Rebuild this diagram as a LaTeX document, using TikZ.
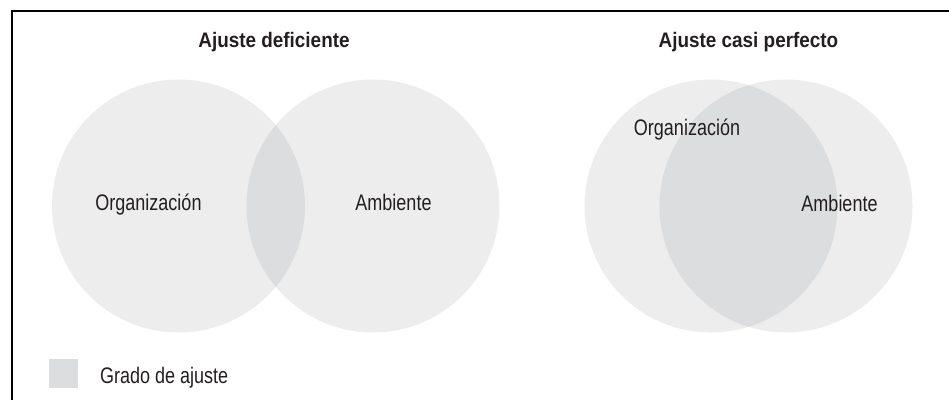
\documentclass[tikz,border=0pt]{standalone}
\usepackage{fontspec}
\setmainfont{Liberation Sans}
\newfontfamily\bodyfont[FakeStretch=0.80]{Liberation Sans}
\newfontfamily\headfont[FakeStretch=0.90]{Liberation Sans}
\definecolor{circfill}{HTML}{EDEDED}
\definecolor{lensfill}{HTML}{DCDDDF}
\definecolor{ink}{HTML}{231F20}
\tikzset{
  lbl/.style={inner sep=0pt, anchor=base, text=ink, font=\bodyfont\fontsize{22.5}{26}\selectfont},
  ttl/.style={inner sep=0pt, anchor=base, text=ink, font=\headfont\bfseries\fontsize{21}{25}\selectfont},
  frameline/.style={line width=2pt, black}
}
\begin{document}
\begin{tikzpicture}[x=1pt,y=-1pt]
\useasboundingbox (0,0) rectangle (949,400);
% frame (top and left)
\draw[frameline] (12,400) -- (12,11) -- (949,11);
% left pair
\fill[circfill] (178.5,206) circle[radius=126.5pt];
\fill[circfill] (373,206) circle[radius=126.5pt];
\begin{scope}
  \clip (178.5,206) circle[radius=126.5pt];
  \fill[lensfill] (373,206) circle[radius=126.5pt];
\end{scope}
% right pair
\fill[circfill] (711,206) circle[radius=126.5pt];
\fill[circfill] (786,206) circle[radius=126.5pt];
\begin{scope}
  \clip (711,206) circle[radius=126.5pt];
  \fill[lensfill] (786,206) circle[radius=126.5pt];
\end{scope}
% titles
\node[ttl] (t1) at (274,47) {Ajuste deficiente};
\node[ttl] (t2) at (748.5,47) {Ajuste casi perfecto};
% labels
\node[lbl] (o1) at (148.5,210) {Organización};
\node[lbl] (a1) at (393.5,210) {Ambiente};
\node[lbl] (o2) at (687,135) {Organización};
\node[lbl] (a2) at (839.5,211) {Ambiente};
% legend
\fill[lensfill] (49,359) rectangle (78,388);
\node[lbl, anchor=base west] (leg) at (100,383) {Grado de ajuste};
\end{tikzpicture}
\end{document}
